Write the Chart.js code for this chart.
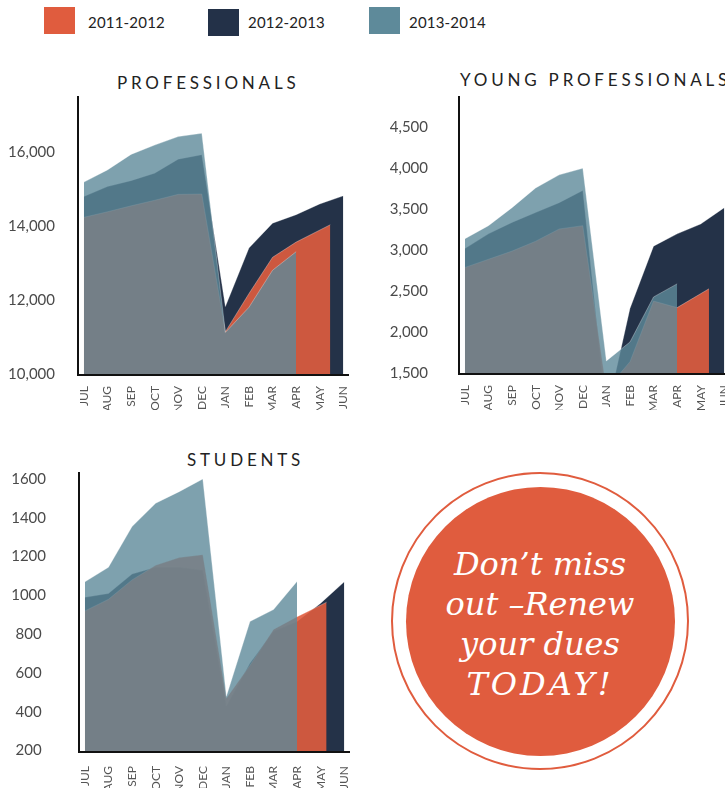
<!DOCTYPE html>
<html lang="en">
<head>
<meta charset="UTF-8" />
<title>Membership by year</title>
<style>
  * { margin: 0; padding: 0; box-sizing: border-box; }
  body {
    width: 725px;
    height: 788px;
    overflow: hidden;
    position: relative;
    background: #fff;
    font-family: Lato, "Open Sans", sans-serif;
  }
  .swatch { position: absolute; width: 31px; height: 27px; }
  .key {
    position: absolute;
    font-size: 15px;
    font-weight: 400;
    letter-spacing: 0.2px;
    line-height: 1;
    color: #222;
    white-space: nowrap;
  }
  .title {
    position: absolute;
    font-size: 17px;
    font-weight: 400;
    line-height: 1;
    letter-spacing: 3.8px;
    color: #222;
    white-space: nowrap;
  }
  canvas { position: absolute; }
  .ring {
    position: absolute;
    left: 391px; top: 472px;
    width: 298px; height: 298px;
    border: 2px solid #e05c3e;
    border-radius: 50%;
  }
  .disc {
    position: absolute;
    left: 406px; top: 487px;
    width: 269px; height: 269px;
    border-radius: 50%;
    background: #e05c3e;
  }
  .promo {
    position: absolute;
    left: 390px; top: 544px;
    width: 300px;
    text-align: center;
    color: #fff;
    font-family: "DejaVu Serif", serif;
    font-style: italic;
    font-size: 32px;
    line-height: 40px;
  }
  .promo span { letter-spacing: 3px; }
</style>
</head>
<body>
  <div class="swatch" style="left:44px;top:7px;background:#e05c3e"></div>
  <div class="key" style="left:88px;top:15px">2011-2012</div>
  <div class="swatch" style="left:208px;top:9px;background:#233148"></div>
  <div class="key" style="left:248px;top:15px">2012-2013</div>
  <div class="swatch" style="left:369px;top:7px;background:#5e8a9a"></div>
  <div class="key" style="left:409px;top:15px">2013-2014</div>

  <div class="title" style="left:117px;top:74px">PROFESSIONALS</div>
  <div class="title" style="left:460px;top:71px">YOUNG PROFESSIONALS</div>
  <div class="title" style="left:187px;top:451px">STUDENTS</div>

  <canvas id="pro" width="360" height="320" style="left:0;top:90px"></canvas>
  <canvas id="yp" width="360" height="320" style="left:381px;top:90px"></canvas>
  <canvas id="stu" width="360" height="322" style="left:1px;top:466px"></canvas>

  <div class="ring"></div>
  <div class="disc"></div>
  <div class="promo">Don’t miss<br>out –Renew<br>your dues<br><span>TODAY!</span></div>

  <script src="https://cdn.jsdelivr.net/npm/chart.js"></script>
  <script>
    const months = ["JUL", "AUG", "SEP", "OCT", "NOV", "DEC", "JAN", "FEB", "MAR", "APR", "MAY", "JUN"];

    // professionals
    const proTicks = [10000, 12000, 14000, 16000];
    const pro1112 = [14230, 14380, 14540, 14690, 14850, 14860, 11140, 12170, 13150, 13560, 14030, null];
    const pro1213 = [14790, 15060, 15220, 15420, 15800, 15920, 11820, 13400, 14070, 14300, 14590, 14810];
    const pro1314 = [15180, 15510, 15930, 16180, 16410, 16500, 11120, 11800, 12800, 13300, null, null];

    // young professionals
    const ypTicks = [1500, 2000, 2500, 3000, 3500, 4000, 4500];
    const yp1112 = [2790, 2890, 2990, 3110, 3260, 3300, 1300, 1640, 2380, 2300, 2530, null];
    const yp1213 = [3020, 3200, 3340, 3460, 3580, 3730, 1000, 2290, 3050, 3200, 3320, 3520];
    const yp1314 = [3140, 3300, 3520, 3760, 3920, 4000, 1650, 1880, 2430, 2590, null, null];

    // students
    const stuTicks = [200, 400, 600, 800, 1000, 1200, 1400, 1600];
    const stu1112 = [920, 980, 1080, 1155, 1195, 1210, 470, 640, 825, 890, 965, null];
    const stu1213 = [990, 1010, 1110, 1145, 1145, 1130, 430, 650, 815, 866, 960, 1070];
    const stu1314 = [1070, 1145, 1355, 1475, 1535, 1600, 480, 866, 927, 1073, null, null];

    // the 2011-2012 area stops part-way between MAY and JUN (month units)
    const pro1112End = 10.45;
    const yp1112End = 10.35;
    const stu1112End = 10.25;

    function points(values, lastX) {
      const pts = [];
      values.forEach((v, i) => {
        if (v !== null) pts.push({ x: i, y: v });
      });
      if (lastX !== undefined) pts[pts.length - 1].x = lastX;
      return pts;
    }

    const area = {
      fill: "start",
      pointRadius: 0,
      borderWidth: 1,
      borderColor: "rgba(255,255,255,0.3)",
      tension: 0
    };

    // keep the plot box where we put it: no extra room for edge labels
    function noPadding(s) {
      s.paddingTop = 0;
      s.paddingBottom = 0;
      s.paddingLeft = 0;
      s.paddingRight = 0;
    }

    function makeChart(id, s1112, s1213, s1314, end1112, ticks, yMin, yMax, yPad, xPad, xHeight, fmt) {
      return new Chart(document.getElementById(id), {
        type: "line",
        data: {
          // first dataset is painted last, so teal sits on top, navy underneath
          datasets: [
            { ...area, label: "2013-2014", data: points(s1314), backgroundColor: "rgba(94,138,154,0.8)" },
            { ...area, label: "2011-2012", data: points(s1112, end1112), backgroundColor: "rgba(224,92,62,0.9)" },
            { ...area, label: "2012-2013", data: points(s1213), backgroundColor: "#243248" }
          ]
        },
        options: {
          responsive: false,
          animation: false,
          layout: { padding: { top: 7, right: 12, left: 0, bottom: 0 } },
          plugins: { legend: { display: false }, tooltip: { enabled: false } },
          scales: {
            x: {
              type: "linear",
              min: -0.25,
              max: 11.2,
              afterBuildTicks: (s) => { s.ticks = months.map((m, i) => ({ value: i })); },
              afterFit: (s) => { s.height = xHeight; noPadding(s); },
              grid: { display: false, drawTicks: false },
              border: { display: true, color: "#111", width: 2, z: 1 },
              ticks: {
                autoSkip: false,
                minRotation: 90,
                maxRotation: 90,
                padding: xPad,
                color: "#555",
                font: { family: "Lato", size: 12 },
                callback: (v) => months[v]
              }
            },
            y: {
              min: yMin,
              max: yMax,
              afterBuildTicks: (s) => { s.ticks = ticks.map((v) => ({ value: v })); },
              afterFit: (s) => { s.width = 78; noPadding(s); },
              grid: { display: false, drawTicks: false },
              border: { display: true, color: "#111", width: 2, z: 1 },
              ticks: {
                crossAlign: "center",
                padding: yPad,
                color: "#4a4a4a",
                font: { family: "Lato", size: 15 },
                callback: fmt
              }
            }
          }
        }
      });
    }

    const withComma = (v) => v.toLocaleString("en-US");

    makeChart("pro", pro1112, pro1213, pro1314, pro1112End, proTicks, 9970, 17480, 23, 11, 35, withComma);
    makeChart("yp", yp1112, yp1213, yp1314, yp1112End, ypTicks, 1490, 4870, 31, 11, 36, withComma);
    makeChart("stu", stu1112, stu1213, stu1314, stu1112End, stuTicks, 193, 1631, 33, 14, 36, (v) => String(v));
  </script>
</body>
</html>
